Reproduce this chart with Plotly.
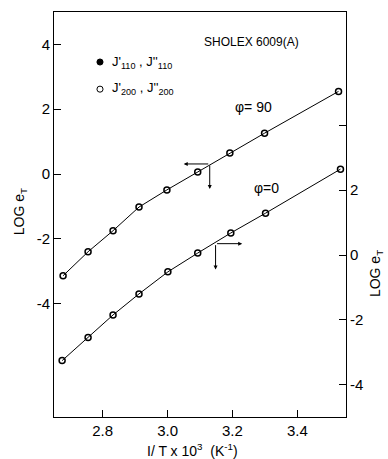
import plotly.graph_objects as go

# Data
x_phi90 = [2.678, 2.755, 2.832, 2.912, 2.998, 3.093, 3.192, 3.299, 3.527]
y_phi90 = [-3.14, -2.40, -1.75, -1.02, -0.49, 0.06, 0.65, 1.26, 2.55]   # left axis
x_phi0 = [2.675, 2.755, 2.832, 2.912, 3.001, 3.093, 3.195, 3.302, 3.533]
y_phi0 = [-3.26, -2.55, -1.85, -1.20, -0.52, 0.06, 0.68, 1.29, 2.65]    # right axis

left_ticks = [-4, -2, 0, 2, 4]
left_text = ["-4", "-2", "0", "2", "4"]
right_ticks = [-4, -2, 0, 2, 4]
right_text = ["-4", "-2", "0", "2", ""]
x_ticks = [2.8, 3.0, 3.2, 3.4]
x_text = ["2.8", "3.0", "3.2", "3.4"]

FONT = "Liberation Sans"
marker = dict(symbol="circle-open", size=6, color="black", line=dict(width=1.5, color="black"))

fig = go.Figure()
fig.add_trace(go.Scatter(x=x_phi90, y=y_phi90, mode="lines+markers",
                         line=dict(color="black", width=1), marker=marker,
                         yaxis="y", showlegend=False))
fig.add_trace(go.Scatter(x=x_phi0, y=y_phi0, mode="lines+markers",
                         line=dict(color="black", width=1), marker=marker,
                         yaxis="y2", showlegend=False))

axis_common = dict(showline=True, linecolor="black", linewidth=1, ticks="inside",
                   ticklen=7, tickcolor="black", showgrid=False, zeroline=False,
                   tickfont=dict(family=FONT, size=15, color="black"))

fig.update_layout(
    width=388, height=459,
    margin=dict(l=54, r=42, t=12, b=42),
    paper_bgcolor="white", plot_bgcolor="white",
    xaxis=dict(range=[2.65, 3.55], tickvals=x_ticks, ticktext=x_text, mirror=True, **axis_common),
    yaxis=dict(range=[-7.5, 5], tickvals=left_ticks, ticktext=left_text, **axis_common),
    yaxis2=dict(range=[-5, 7.5], tickvals=right_ticks, ticktext=right_text,
                overlaying="y", side="right", **axis_common),
)

def txt(x, y, s, size=14, angle=0, xanchor="center"):
    fig.add_annotation(x=x, y=y, xref="paper", yref="paper", text=s, showarrow=False,
                       textangle=angle, xanchor=xanchor, yanchor="middle",
                       font=dict(family=FONT, size=size, color="black"))

txt(0.678, 0.926, "SHOLEX 6009(A)", size=12)
txt(0.682, 0.765, "φ= 90", size=14)
txt(0.729, 0.565, "φ=0", size=14)
txt(0.192, 0.876, "J'<sub>110</sub> , J''<sub>110</sub>", size=13, xanchor="left")
txt(0.192, 0.811, "J'<sub>200</sub> , J''<sub>200</sub>", size=13, xanchor="left")
txt(0.476, -0.081, "I/ T x 10<sup>3</sup>  (K<sup>-1</sup>)", size=14)
txt(-0.116, 0.506, "LOG e<sub>T</sub>", size=14, angle=-90)
txt(1.103, 0.353, "LOG e<sub>T</sub>", size=14, angle=-90)

# legend symbols
fig.add_shape(type="circle", xref="paper", yref="paper", x0=0.147, x1=0.168, y0=0.869, y1=0.884,
              line=dict(color="black", width=1), fillcolor="black")
fig.add_shape(type="circle", xref="paper", yref="paper", x0=0.147, x1=0.168, y0=0.802, y1=0.817,
              line=dict(color="black", width=1), fillcolor="white")

# Axis-indicator arrows
def arrow(x0, y0, x1, y1):
    fig.add_annotation(x=x1, y=y1, ax=x0, ay=y0, xref="x", yref="y", axref="x", ayref="y",
                       showarrow=True, arrowhead=2, arrowsize=0.8, arrowwidth=1,
                       arrowcolor="black", text="")

arrow(3.13, 0.31, 3.05, 0.31)
arrow(3.13, 0.31, 3.13, -0.46)
arrow(3.148, -2.15, 3.23, -2.15)
arrow(3.148, -2.15, 3.148, -2.95)

fig.write_html("out.html")
